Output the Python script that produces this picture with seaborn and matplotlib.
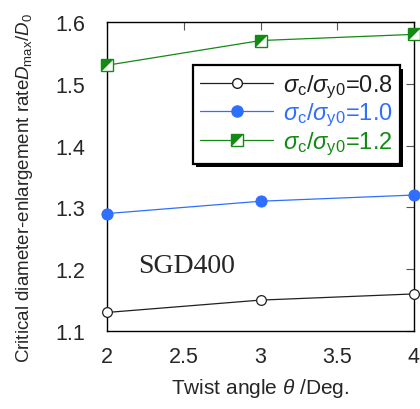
import numpy as np
import pandas as pd
import matplotlib
matplotlib.use('Agg')
import matplotlib.pyplot as plt
import seaborn as sns
from matplotlib.lines import Line2D
from matplotlib.legend_handler import HandlerTuple
import matplotlib.patheffects as pe

# data
twist_angle = [2, 3, 4]
ratio_08 = [1.13, 1.15, 1.16]
ratio_10 = [1.29, 1.31, 1.32]
ratio_12 = [1.53, 1.57, 1.58]

c_black = '#202020'
c_blue = '#2f6fff'
c_green = '#138a13'

sns.set_style('white')
plt.rcParams['font.family'] = ['Liberation Sans', 'DejaVu Sans']
plt.rcParams['mathtext.fontset'] = 'custom'
plt.rcParams['mathtext.rm'] = 'Liberation Sans'
plt.rcParams['mathtext.it'] = 'Liberation Sans:italic'

df = pd.DataFrame({
    'theta': twist_angle * 3,
    'ratio': ratio_08 + ratio_10 + ratio_12,
    'case': ['0.8'] * 3 + ['1.0'] * 3 + ['1.2'] * 3,
})

fig = plt.figure(figsize=(4.2, 4.1), dpi=100)
ax = fig.add_axes([107 / 420, 1 - 332 / 410, 307 / 420, 309 / 410])

tri = [(-1, 1), (1, 1), (-1, -1), (-1, 1)]

sns.lineplot(data=df[df.case == '0.8'], x='theta', y='ratio', ax=ax,
             color=c_black, lw=0.9, marker='o', markersize=7,
             markerfacecolor='white', markeredgecolor=c_black, mew=0.9,
             clip_on=False, zorder=3)
sns.lineplot(data=df[df.case == '1.0'], x='theta', y='ratio', ax=ax,
             color=c_blue, lw=0.9, marker='o', markersize=8,
             markerfacecolor=c_blue, markeredgecolor=c_blue,
             clip_on=False, zorder=3)
sns.lineplot(data=df[df.case == '1.2'], x='theta', y='ratio', ax=ax,
             color=c_green, lw=0.9, marker='s', markersize=8.5,
             markerfacecolor='white', markeredgecolor=c_green, mew=1.0,
             clip_on=False, zorder=3)
ax.plot(twist_angle, ratio_12, ls='none', marker=tri, markersize=8.5,
        color=c_green, mew=0, clip_on=False, zorder=4)

ax.set_xlim(2, 4)
ax.set_ylim(1.1, 1.6)
ax.set_xticks([2, 2.5, 3, 3.5, 4])
ax.set_xticklabels(['2', '2.5', '3', '3.5', '4'])
ax.set_yticks([1.1, 1.2, 1.3, 1.4, 1.5, 1.6])
ax.tick_params(direction='in', length=6, width=0.8, color='#555555',
               top=True, right=True, labelsize=15.5)
ax.tick_params(axis='y', pad=16)
ax.tick_params(axis='x', pad=11)
for s in ax.spines.values():
    s.set_color('black')
    s.set_linewidth(1.0)

ax.set_xlabel(r'Twist angle $\it{\theta}$ /Deg.', fontsize=15, labelpad=6)
ax.set_ylabel(r'Critical diameter-enlargement rate$\it{D}_{\rm max}/\it{D}_{\rm 0}$',
              fontsize=13.5)
ax.yaxis.set_label_coords(-0.235, 0.465)

ax.text(2.2, 1.195, 'SGD400', fontsize=20, family='Liberation Serif')

h1 = Line2D([], [], color=c_black, lw=0.9, marker='o', markersize=7,
            markerfacecolor='white', markeredgecolor=c_black)
h2 = Line2D([], [], color=c_blue, lw=0.9, marker='o', markersize=8,
            markerfacecolor=c_blue)
h3a = Line2D([], [], color=c_green, lw=0.9, marker='s', markersize=8.5,
             markerfacecolor='white', markeredgecolor=c_green)
h3b = Line2D([], [], ls='none', marker=tri, markersize=8.5, color=c_green, mew=0)
labels = [r'$\sigma_{\rm c}/\sigma_{\rm y0}$=0.8',
          r'$\sigma_{\rm c}/\sigma_{\rm y0}$=1.0',
          r'$\sigma_{\rm c}/\sigma_{\rm y0}$=1.2']
leg = ax.legend([h1, h2, (h3a, h3b)], labels,
                handler_map={tuple: HandlerTuple(ndivide=1)},
                loc='upper left', bbox_to_anchor=(0.28, 0.86),
                fontsize=17, frameon=True, fancybox=False, shadow=False,
                framealpha=1, facecolor='white',
                handlelength=3.1, borderpad=0.3, labelspacing=0.05,
                handletextpad=0.4, borderaxespad=0)
frame = leg.get_frame()
frame.set_edgecolor('black')
frame.set_linewidth(1.6)
frame.set_path_effects([pe.SimplePatchShadow(offset=(2.5, -2.5), shadow_rgbFace='black', alpha=1),
                        pe.Normal()])
for t, c in zip(leg.get_texts(), [c_black, c_blue, c_green]):
    t.set_color(c)

fig.savefig('out.png', dpi=100)
